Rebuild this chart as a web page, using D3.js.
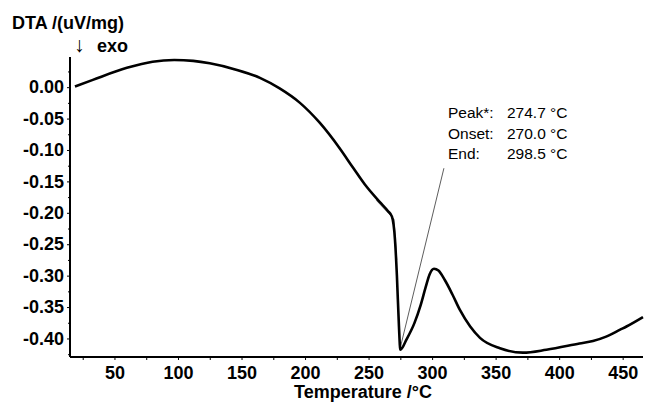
<!DOCTYPE html>
<html>
<head>
<meta charset="utf-8">
<script src="https://cdn.jsdelivr.net/npm/d3@7"></script>
<style>
  html, body { margin: 0; padding: 0; background: #fff; }
  svg { display: block; }
  text { font-family: "Liberation Sans", Arial, sans-serif; }
</style>
</head>
<body>
<svg id="chart" width="645" height="403"></svg>
<script>
// Data
const temperature = [18.9, 33, 59.8, 80, 97, 112, 125, 146.4, 164.5, 180, 196, 211.7, 227.5, 237.7, 247.1, 258.9, 265.2, 268.4, 270.8, 272.3, 273.9, 275, 280, 286, 291, 295, 298, 301.5, 305, 310, 316, 322, 330, 337.7, 353.4, 371.5, 390, 416, 426.6, 437, 448, 453, 466];
const dta = [0.001, 0.0116, 0.0307, 0.0405, 0.0432, 0.0418, 0.038, 0.0275, 0.0148, -0.002, -0.025, -0.057, -0.098, -0.128, -0.155, -0.183, -0.197, -0.206, -0.243, -0.30, -0.38, -0.418, -0.401, -0.376, -0.347, -0.318, -0.298, -0.289, -0.292, -0.307, -0.330, -0.355, -0.381, -0.399, -0.4156, -0.4226, -0.418, -0.408, -0.404, -0.397, -0.386, -0.381, -0.366];

const xTicks = [50, 100, 150, 200, 250, 300, 350, 400, 450];
const xMinorTicks = [25, 75, 125, 175, 225, 275, 325, 375, 425];
const yTicks = [0.00, -0.05, -0.10, -0.15, -0.20, -0.25, -0.30, -0.35, -0.40];
const yMinorTicks = [0.025, -0.025, -0.075, -0.125, -0.175, -0.225, -0.275, -0.325, -0.375, -0.425];

const annotLabels = ["Peak*:", "Onset:", "End:"];
const annotValues = ["274.7 °C", "270.0 °C", "298.5 °C"];
const peakPoint = [274.7, -0.417];
const leaderEnd = [309.3, -0.129];
const onsetTangentT = [256, 270.0, 272.2];
const onsetTangentV = [-0.180, -0.210, -0.275];

const svg = d3.select("#chart");
const x = d3.scaleLinear().domain([15, 466]).range([70, 643]);
const y = d3.scaleLinear().domain([-0.4295, 0.048]).range([357, 57]);
const yFmt = v => d3.format(".2f")(v).replace("\u2212", "-");

// Axes
const xAxis = svg.append("g").attr("transform", "translate(0,357)")
  .call(d3.axisBottom(x).tickValues(xTicks).tickSize(3).tickPadding(6).tickFormat(d3.format("d")));
svg.append("g").attr("transform", "translate(0,357)")
  .call(d3.axisBottom(x).tickValues(xMinorTicks).tickSize(3).tickFormat(""))
  .select(".domain").remove();
const yAxis = svg.append("g").attr("transform", "translate(70,0)")
  .call(d3.axisLeft(y).tickValues(yTicks).tickSize(3).tickPadding(3).tickFormat(yFmt));
svg.append("g").attr("transform", "translate(70,0)")
  .call(d3.axisLeft(y).tickValues(yMinorTicks).tickSize(2).tickFormat(""))
  .select(".domain").remove();

svg.selectAll(".domain").attr("stroke", "#000").attr("stroke-width", 2);
svg.selectAll(".tick line").attr("stroke", "#000").attr("stroke-width", 1);
svg.selectAll(".tick text")
  .attr("fill", "#000")
  .style("font-family", "'Liberation Sans', Arial, sans-serif")
  .style("font-size", "18px")
  .style("font-weight", "bold");
xAxis.selectAll(".tick text").attr("dy", "0.71em");
xAxis.select(".domain").attr("d", "M70,0H643");
yAxis.select(".domain").attr("d", "M0,57V357");

// Titles
svg.append("text").attr("x", 12).attr("y", 29)
  .style("font-size", "18px").style("font-weight", "bold").text("DTA /(uV/mg)");
svg.append("text").attr("x", 74).attr("y", 52)
  .style("font-size", "21px").style("font-weight", "normal").text("↓");
svg.append("text").attr("x", 97).attr("y", 52)
  .style("font-size", "18px").style("font-weight", "bold").text("exo");
svg.append("text").attr("x", 363).attr("y", 398).attr("text-anchor", "middle")
  .style("font-size", "18px").style("font-weight", "bold").text("Temperature /°C");

// Onset tangent (thin)
svg.append("path")
  .datum(onsetTangentT.map((t, i) => [t, onsetTangentV[i]]))
  .attr("fill", "none").attr("stroke", "#555").attr("stroke-width", 0.8)
  .attr("d", d3.line().x(d => x(d[0])).y(d => y(d[1])));

// Leader line
svg.append("line")
  .attr("x1", x(peakPoint[0])).attr("y1", y(peakPoint[1]))
  .attr("x2", x(leaderEnd[0])).attr("y2", y(leaderEnd[1]))
  .attr("stroke", "#333").attr("stroke-width", 0.8);

// Curve
const pts = temperature.map((t, i) => [t, dta[i]]);
svg.append("path").datum(pts)
  .attr("fill", "none").attr("stroke", "#000").attr("stroke-width", 2.6)
  .attr("stroke-linejoin", "round")
  .attr("d", d3.line().x(d => x(d[0])).y(d => y(d[1])).curve(d3.curveMonotoneX));

// Annotation
const ann = svg.append("g").style("font-size", "15.5px");
annotLabels.forEach((lab, i) => {
  ann.append("text").attr("x", 448).attr("y", 118 + i * 20.5).text(lab);
  ann.append("text").attr("x", 507).attr("y", 118 + i * 20.5).text(annotValues[i]);
});
</script>
</body>
</html>
